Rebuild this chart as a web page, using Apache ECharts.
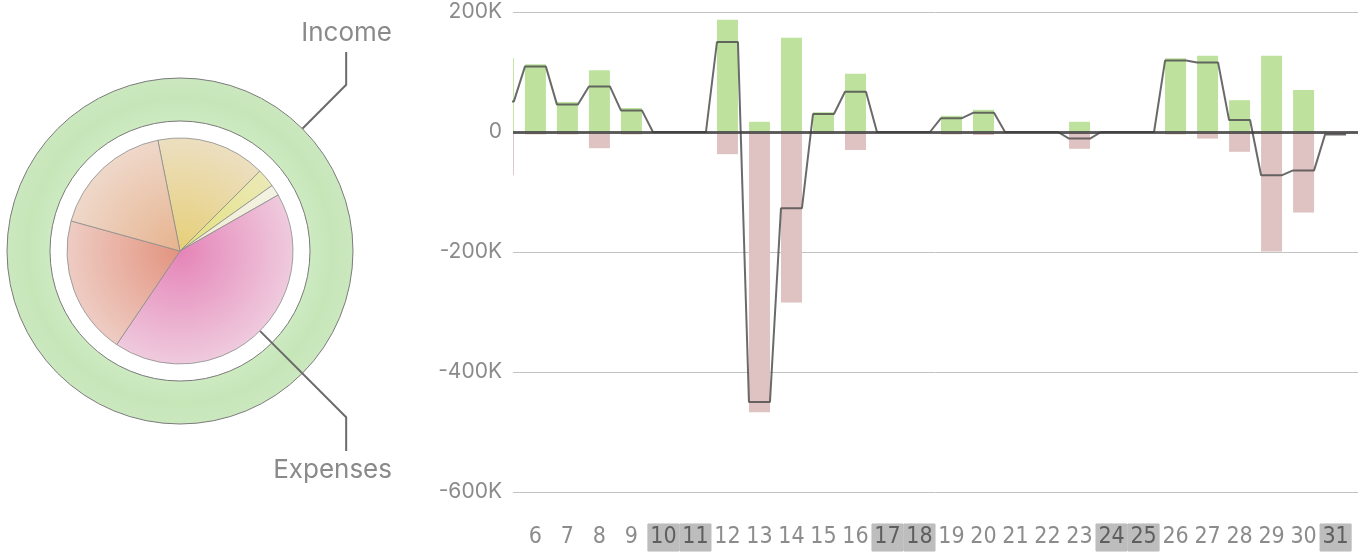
<!DOCTYPE html>
<html>
<head>
<meta charset="utf-8">
<title>Income / Expenses</title>
<script src="https://cdn.jsdelivr.net/npm/echarts@6/dist/echarts.min.js"></script>
<style>
	html, body { margin: 0; padding: 0; background: #fff; }
	#chart { width: 1366px; height: 554px; }
</style>
</head>
<body>
<div id="chart"></div>
<script>
// days of the month (day 5 is only partly visible at the left edge)
const DAYS = [5, 6, 7, 8, 9, 10, 11, 12, 13, 14, 15, 16, 17, 18, 19, 20, 21, 22, 23, 24, 25, 26, 27, 28, 29, 30, 31]
// values in K
const INCOME  = [123, 113, 50, 103, 40, 0, 0, 187, 17, 157, 33, 97, 0, 0, 27, 37, 0, 0, 17, 0, 0, 123, 127, 53, 127, 70, 0]
const EXPENSE = [72, 4, 4, 27, 4, 0, 0, 37, 467, 284, 3, 30, 0, 0, 4, 5, 0, 0, 28, 0, 0, 4, 11, 33, 199, 134, 4]
const NET     = [51, 109, 46, 76, 36, 0, 0, 150, -450, -127, 30, 67, 0, 0, 23, 32, 0, 0, -11, 0, 0, 119, 116, 20, -72, -64, -4]
const LABEL_DAYS = [6, 7, 8, 9, 10, 11, 12, 13, 14, 15, 16, 17, 18, 19, 20, 21, 22, 23, 24, 25, 26, 27, 28, 29, 30, 31]
const WEEKEND = [10, 11, 17, 18, 24, 25, 31]
const Y_TICKS = [-600, -400, -200, 0, 200]

// donut: total income, and the expense split
const INCOME_TOTAL = [1188]
const EXPENSE_NAMES = ['Groceries', 'Utilities', 'Other', 'Housing', 'Travel', 'Leisure']
const EXPENSE_VALUES = [217, 37, 22, 593, 275, 244]

// pie geometry / colours
const CX = 180, CY = 251
const PIE_R = 113, RING_IN = 130, RING_OUT = 173
const SLICE_COLORS = [
	['#e6cf78', '#ecdfc0'],
	['#e3e07a', '#ebe9b6'],
	['#efecd0', '#f4f2e2'],
	['#e584b8', '#efcadd'],
	['#e3937f', '#eeccc3'],
	['#e6b38e', '#efd8ca']
]
const BAR_FRAC = 0.656   // bar width as part of one day
const HALF = BAR_FRAC / 2
const FONT = 'Inter, "Noto Sans", sans-serif'
const NARROW = '"Liberation Sans Narrow", "DejaVu Sans Condensed", sans-serif'

function radial(c0, c1) {
	return {
		type: 'radial', x: CX, y: CY, r: PIE_R, global: true,
		colorStops: [{ offset: 0, color: c0 }, { offset: 1, color: c1 }]
	}
}

// leader line: radial out at 45deg to an elbow, then vertical to the label
function leader(r0, dirY, labelY) {
	const k = Math.SQRT1_2
	const p0 = [CX + r0 * k, CY + dirY * r0 * k]
	const p1 = [CX + 235 * k, CY + dirY * 235 * k]
	const p2 = [p1[0], labelY - dirY * 19]
	return { x: 392, y: labelY, align: 'right', verticalAlign: 'middle', labelLinePoints: [p0, p1, p2] }
}

// bars drawn by hand so the half day at the left edge gets cut by the grid
function barItem(params, api) {
	const d = api.value(0), v = api.value(1)
	const base = api.coord([d, 0])
	const top = api.coord([d, v])
	const w = api.size([1, 0])[0] * BAR_FRAC
	const cs = params.coordSys
	const rect = echarts.graphic.clipRectByRect(
		{ x: base[0] - w / 2, y: Math.min(base[1], top[1]), width: w, height: Math.abs(top[1] - base[1]) },
		{ x: cs.x, y: cs.y, width: cs.width, height: cs.height }
	)
	if (!rect) return null
	return { type: 'rect', shape: rect, style: api.style() }
}

let lineData = []
DAYS.forEach((d, i) => {
	lineData.push([d - HALF, NET[i]])
	lineData.push([d + HALF, NET[i]])
})

const chart = echarts.init(document.getElementById('chart'))

const dayLabel = {
	width: 31, height: 27, lineHeight: 27, align: 'center',
	fontFamily: NARROW, fontSize: 23, color: '#8c8c8c'
}

const option = {
	animation: false,
	grid: { left: 513, right: 8, top: 12, bottom: 62 },
	xAxis: {
		type: 'value',
		min: 5.3,
		max: 31.7,
		splitLine: { show: false },
		axisLine: { show: false },
		axisTick: { show: false },
		axisLabel: {
			customValues: LABEL_DAYS,
			showMaxLabel: true,
			showMinLabel: true,
			hideOverlap: false,
			margin: 32,
			formatter: v => WEEKEND.indexOf(v) >= 0 ? '{we|' + v + '}' : '{wd|' + v + '}',
			rich: {
				wd: dayLabel,
				we: Object.assign({}, dayLabel, {
					color: '#5e5e5e',
					backgroundColor: '#bdbdbd', borderColor: '#a3a3a3', borderWidth: 0.4
				})
			}
		}
	},
	yAxis: {
		type: 'value',
		min: Y_TICKS[0],
		max: Y_TICKS[Y_TICKS.length - 1],
		interval: 200,
		axisLine: { show: false },
		axisTick: { show: false },
		splitLine: { lineStyle: { color: '#c2c2c2', width: 1 } },
		axisLabel: {
			margin: 11,
			fontFamily: FONT,
			fontSize: 21,
			color: '#8a8a8a',
			formatter: v => v === 0 ? '0' : v + 'K'
		}
	},
	series: [
		{
			// income ring
			type: 'pie',
			z: 2,
			center: [CX, CY],
			radius: [RING_IN, RING_OUT],
			startAngle: 225,
			silent: true,
			itemStyle: {
				color: {
					type: 'radial', x: CX, y: CY, r: RING_OUT, global: true,
					colorStops: [
						{ offset: 0.75, color: '#cdeac1' },
						{ offset: 0.88, color: '#c6e6b8' },
						{ offset: 1, color: '#cbe8be' }
					]
				},
				borderColor: '#7a7a7a',
				borderWidth: 1
			},
			label: { show: true, formatter: 'Income', fontFamily: FONT, fontSize: 26, color: '#8a8a8a' },
			labelLine: { show: true, lineStyle: { color: '#6b6b6b', width: 2 } },
			labelLayout: () => leader(RING_OUT, -1, 33),
			data: INCOME_TOTAL.map(v => ({ name: 'Income', value: v }))
		},
		{
			// expense pie
			type: 'pie',
			z: 3,
			center: [CX, CY],
			radius: [0, PIE_R],
			startAngle: 101.3,
			silent: true,
			avoidLabelOverlap: false,
			itemStyle: { borderColor: '#8c8c8c', borderWidth: 0.8 },
			label: { show: false },
			labelLine: { show: false },
			labelLayout: () => leader(PIE_R, 1, 470),
			data: EXPENSE_VALUES.map((v, i) => {
				let item = {
					name: EXPENSE_NAMES[i],
					value: v,
					itemStyle: { color: radial(SLICE_COLORS[i][0], SLICE_COLORS[i][1]) }
				}
				if (i === 3) {
					item.label = { show: true, formatter: 'Expenses', fontFamily: FONT, fontSize: 26, color: '#8a8a8a' }
					item.labelLine = { show: true, lineStyle: { color: '#6b6b6b', width: 2 } }
				}
				return item
			})
		},
		{
			name: 'Income',
			type: 'custom',
			renderItem: barItem,
			itemStyle: { color: '#bee29d' },
			encode: { x: 0, y: 1 },
			data: DAYS.map((d, i) => [d, INCOME[i]])
		},
		{
			name: 'Expenses',
			type: 'custom',
			renderItem: barItem,
			itemStyle: { color: '#dfc2c2' },
			encode: { x: 0, y: 1 },
			data: DAYS.map((d, i) => [d, -EXPENSE[i]])
		},
		{
			name: 'Net',
			type: 'line',
			z: 4,
			symbol: 'none',
			lineStyle: { color: 'rgba(80,80,80,0.85)', width: 2 },
			data: lineData,
			markLine: {
				silent: true,
				symbol: 'none',
				label: { show: false },
				lineStyle: { color: 'rgba(60,60,60,0.8)', width: 3, type: 'solid' },
				data: [{ yAxis: 0 }]
			}
		}
	]
}

chart.setOption(option)
window.addEventListener('resize', function () {
	chart.resize()
})
</script>
</body>
</html>
